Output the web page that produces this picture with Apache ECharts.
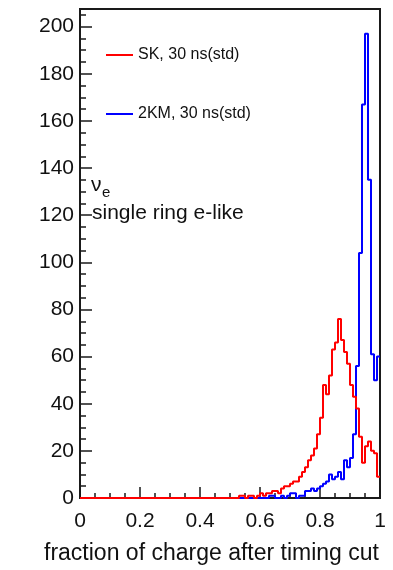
<!DOCTYPE html>
<html>
<head>
<meta charset="utf-8">
<script src="https://cdn.jsdelivr.net/npm/echarts@6/dist/echarts.min.js"></script>
<style>
  html, body { margin: 0; padding: 0; background: #fff; }
  #chart { width: 393px; height: 570px; }
</style>
</head>
<body>
<div id="chart"></div>
<script>
// histogram binning: 100 bins of 0.01 from 0 to 1
var BIN_WIDTH = 0.01;

// SK, 30 ns(std) - counts per bin
var skCounts = [
  0, 0, 0, 0, 0, 0, 0, 0, 0, 0,
  0, 0, 0, 0, 0, 0, 0, 0, 0, 0,
  0, 0, 0, 0, 0, 0, 0, 0, 0, 0,
  0, 0, 0, 0, 0, 0, 0, 0, 0, 0,
  0, 0, 0, 0, 0, 0, 0, 0, 0, 0,
  0, 0, 0, 1, 1, 0, 1, 1, 0, 1,
  2, 1, 2, 2, 3, 3, 2, 4, 5, 5,
  6, 7, 7, 9, 11, 13, 16, 18, 21, 27,
  34, 48, 44, 52, 63, 66, 76, 67, 62, 57,
  48, 43, 38, 26, 15, 22, 24, 20, 19, 9
];

// 2KM, 30 ns(std) - counts per bin
var kmCounts = [
  0, 0, 0, 0, 0, 0, 0, 0, 0, 0,
  0, 0, 0, 0, 0, 0, 0, 0, 0, 0,
  0, 0, 0, 0, 0, 0, 0, 0, 0, 0,
  0, 0, 0, 0, 0, 0, 0, 0, 0, 0,
  0, 0, 0, 0, 0, 0, 0, 0, 0, 0,
  0, 0, 0, 0, 0, 0, 0, 0, 0, 0,
  0, 0, 0, 1, 1, 0, 0, 1, 0, 1,
  2, 2, 0, 1, 1, 3, 3, 4, 3, 4,
  5, 6, 7, 10, 8, 9, 11, 8, 16, 13,
  17, 27, 56, 104, 167, 197, 135, 61, 50, 60
];

var seriesNames = ["SK, 30 ns(std)", "2KM, 30 ns(std)"];
var xTitle = "fraction of charge after timing cut";

// bin low edges with count, plus closing point at the upper edge
function histData(counts) {
  var d = counts.map(function (c, i) { return [i * BIN_WIDTH, c]; });
  d.push([counts.length * BIN_WIDTH, counts[counts.length - 1]]);
  return d;
}

var FONT = "Liberation Sans, Arial, Helvetica, sans-serif";
var INK = "#111";

var myChart = echarts.init(document.getElementById("chart"));
myChart.setOption({
  backgroundColor: "#fff",
  animation: false,
  grid: {
    left: 80,
    right: 13,
    top: 9,
    bottom: 71,
    show: true,
    borderColor: "#1a1a1a",
    borderWidth: 2,
  },
  legend: {
    data: seriesNames,
    orient: "vertical",
    left: 101,
    top: 42,
    icon: "rect",
    itemWidth: 27,
    itemHeight: 2,
    itemGap: 43,
    textStyle: { fontFamily: FONT, fontSize: 16, color: INK },
  },
  xAxis: {
    type: "value",
    min: 0,
    max: 1,
    interval: 0.2,
    name: xTitle,
    nameLocation: "middle",
    nameGap: 44,
    nameTextStyle: { fontFamily: FONT, fontSize: 23, color: INK, padding: [0, 37, 0, 0] },
    axisLine: { show: true, lineStyle: { color: "#1a1a1a", width: 2 } },
    axisTick: { inside: true, length: 11, lineStyle: { color: "#1a1a1a", width: 1.5 } },
    minorTick: { show: true, splitNumber: 4, length: 5, lineStyle: { color: "#1a1a1a", width: 1.5 } },
    splitLine: { show: false },
    axisLabel: {
      fontFamily: FONT,
      fontSize: 21,
      color: INK,
      margin: 13,
      formatter: function (v) { return String(Math.round(v * 10) / 10); },
    },
  },
  yAxis: [
    {
      type: "value",
      min: 0,
      max: 207.5,
      interval: 20,
      axisLine: { show: true, lineStyle: { color: "#1a1a1a", width: 2 } },
      axisTick: { inside: true, length: 12, lineStyle: { color: "#1a1a1a", width: 1.5 } },
      splitLine: { show: false },
      axisLabel: {
        fontFamily: FONT,
        fontSize: 21,
        color: INK,
        margin: 6,
        formatter: function (v) { return v % 20 === 0 ? String(v) : ""; },
      },
    },
    {
      // minor ticks every 5
      type: "value",
      position: "left",
      min: 0,
      max: 207.5,
      interval: 5,
      axisLine: { show: false },
      axisTick: { show: true, inside: true, length: 6, lineStyle: { color: "#1a1a1a", width: 1.5 } },
      axisLabel: { show: false },
      splitLine: { show: false },
    },
  ],
  series: [
    {
      name: seriesNames[1],
      type: "line",
      step: "end",
      symbol: "none",
      z: 2,
      lineStyle: { color: "#0000ff", width: 2 },
      itemStyle: { color: "#0000ff" },
      data: histData(kmCounts),
    },
    {
      name: seriesNames[0],
      type: "line",
      step: "end",
      symbol: "none",
      z: 3,
      lineStyle: { color: "#ff0000", width: 2 },
      itemStyle: { color: "#ff0000" },
      data: histData(skCounts),
    },
  ],
  graphic: [
    {
      type: "text",
      left: 91,
      top: 175,
      style: { text: "\u03bd", font: "21px " + FONT, fill: INK },
    },
    {
      type: "text",
      left: 102,
      top: 185,
      style: { text: "e", font: "15px " + FONT, fill: INK },
    },
    {
      type: "text",
      left: 92,
      top: 203,
      style: { text: "single ring e-like", font: "21px " + FONT, fill: INK },
    },
  ],
});
</script>
</body>
</html>
